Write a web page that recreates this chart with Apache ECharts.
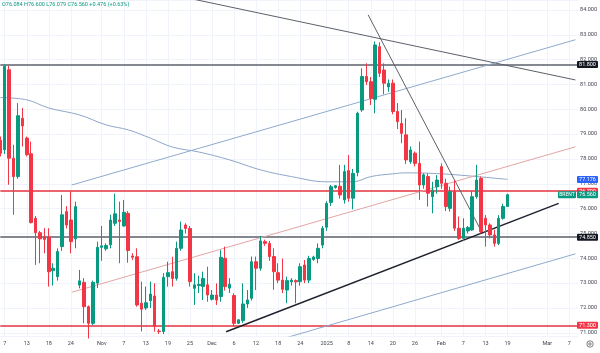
<!DOCTYPE html>
<html>
<head>
<meta charset="utf-8">
<script src="https://cdn.jsdelivr.net/npm/echarts@6/dist/echarts.min.js"></script>
<style>
html, body { margin: 0; padding: 0; background: #fff; }
#chart { width: 600px; height: 353px; }
</style>
</head>
<body>
<div id="chart"></div>
<script>
// Brent daily candles, Oct 2024 - Feb 2025 (Sunday sessions included)
const opens = [78.75,78.37,81.59,78.03,77.29,79.64,78.84,78.21,75.61,75.03,74.85,74.85,73.50,73.26,74.47,75.88,75.54,74.78,72.92,73.03,
  72.05,71.38,73.00,74.44,74.38,74.54,75.41,75.54,75.30,75.81,74.09,74.06,72.19,72.00,72.29,72.48,71.07,71.05,73.26,73.46,
  73.19,74.40,75.34,75.20,72.79,72.90,72.86,72.93,72.35,72.52,72.46,74.00,72.80,72.50,71.38,71.49,72.16,72.39,73.86,73.60,
  74.67,74.60,74.07,73.42,73.12,72.72,73.05,73.10,73.06,73.73,73.12,73.95,73.99,74.53,75.25,76.25,76.85,76.90,76.35,77.53,
  76.42,77.45,79.97,81.32,81.11,80.40,82.52,81.58,80.90,81.05,79.91,79.43,78.97,77.89,78.23,77.82,76.95,77.29,76.48,76.88,
  77.69,77.02,76.01,76.68,75.21,74.80,75.10,75.14,76.48,77.22,75.61,75.34,74.94,74.60,75.61,76.084];
const closes = [78.23,81.73,78.03,77.29,79.74,79.33,78.17,75.44,75.03,74.78,74.76,73.46,73.60,74.27,75.75,75.34,74.67,76.08,73.09,72.05,
  71.38,73.03,74.44,74.50,74.51,75.54,75.79,75.48,75.85,74.31,74.04,72.12,71.95,72.21,72.56,71.25,71.05,73.23,73.42,73.19,
  74.40,75.14,75.20,73.06,72.93,72.95,73.19,72.52,72.52,72.32,74.04,72.86,72.95,71.38,71.52,72.16,72.32,73.86,73.60,74.70,
  74.60,74.07,73.46,73.12,72.75,73.10,73.12,73.05,73.66,73.12,73.99,74.05,74.40,75.21,76.21,76.88,76.92,76.55,77.49,76.42,
  77.42,79.84,81.32,81.11,80.44,82.59,81.45,81.05,81.05,79.91,79.50,79.03,77.96,78.36,77.82,76.95,77.36,76.62,76.75,77.15,
  77.02,76.08,76.68,75.21,74.80,75.21,75.24,76.48,77.15,75.07,75.34,74.94,74.60,75.61,76.084,76.56];
const lows = [78.10,78.20,76.96,75.75,77.20,78.50,78.10,75.40,73.73,73.80,74.20,72.86,72.90,73.10,74.30,75.20,74.20,74.40,72.79,71.38,
  70.77,71.31,72.80,73.90,74.30,74.40,75.30,73.80,75.27,73.82,73.93,72.05,71.05,71.92,72.00,71.05,70.95,70.95,72.86,72.86,
  73.10,74.30,75.00,72.86,72.12,72.60,72.32,72.25,72.30,72.12,72.25,72.70,72.60,71.25,71.35,71.40,72.00,72.30,72.72,73.50,
  74.50,73.90,72.73,73.00,72.60,72.19,72.90,72.19,72.90,73.00,73.00,73.90,73.80,74.40,75.10,76.10,76.80,76.40,76.20,76.28,
  75.97,77.30,79.90,80.98,80.17,79.84,81.30,80.60,80.70,79.80,79.20,78.63,77.80,77.80,77.70,76.35,76.80,76.08,75.81,76.60,
  76.80,75.90,75.88,75.10,74.74,74.70,75.00,75.10,76.40,75.00,74.47,74.80,74.47,74.53,75.55,76.079];
const highs = [78.90,81.80,81.75,78.57,80.25,80.05,78.90,78.70,75.70,75.10,75.21,75.21,73.80,74.40,76.55,76.10,76.69,76.28,73.53,73.20,
  72.10,73.10,74.67,75.30,74.60,75.75,76.60,76.28,76.35,75.90,74.20,74.40,73.06,72.86,73.06,72.99,71.15,73.40,73.86,74.06,
  74.67,75.48,75.41,75.30,73.40,73.30,73.46,73.66,72.72,72.99,74.33,74.47,73.20,72.59,71.55,72.99,72.72,74.07,74.07,74.90,
  74.75,74.70,74.40,73.80,73.99,73.26,73.20,73.15,73.80,73.93,74.10,74.10,74.60,75.30,76.30,76.95,76.95,77.76,77.76,78.16,
  77.60,79.90,81.65,81.85,81.30,82.73,82.70,81.85,81.20,81.20,80.25,79.97,79.64,78.50,78.30,78.70,77.42,77.42,77.08,77.35,
  77.82,77.20,76.88,77.15,75.68,75.61,75.30,76.70,77.76,77.29,75.74,75.41,75.15,75.74,76.20,76.60];

const slotCount = 132; // sessions shown, incl. the empty space on the right
const tickLabels = [[1,'7'],[6,'13'],[11,'18'],[16,'24'],[23,'Nov'],[28,'7'],[33,'13'],[38,'19'],[43,'25'],[48,'Dec'],
  [53,'6'],[58,'12'],[63,'18'],[68,'24'],[74,'2025'],[79,'8'],[84,'14'],[89,'20'],[94,'26'],[100,'Feb'],[105,'7'],
  [110,'13'],[115,'19'],[124,'Mar'],[129,'7']];

// moving average, read at a few sessions
const maPoints = [[0,80.47],[6,80.38],[11,80.05],[18,79.77],[24,79.37],[29,79.17],[34,78.84],[39,78.48],[45,78.28],
  [52,77.96],[59,77.56],[66,77.29],[74,77.08],[80,77.08],[84,77.29],[89,77.40],[92,77.44],[100,77.40],[108,77.29],[115,77.176]];

// drawn trend lines [session, price]
const trendDown = [[38,84.65],[130.4,81.18]];
const trendSteep = [[83.4,83.8],[109.3,75.01]];
const trendUp = [[51.2,71.04],[126.6,76.21]];
const channelTop = [[16.2,76.95],[130.4,82.80]];
const channelMid = [[16.2,72.63],[130.4,78.49]];
const channelLow = [[64.4,70.78],[130.4,74.18]];

const blackLevels = [81.8, 74.85];
const redLevels = [76.7, 71.3];
const maLast = 77.176;
const lastPrice = 76.56;

const FONT = 'Roboto, "Liberation Sans", sans-serif';
const UP = '#089981';
const DOWN = '#f23645';

const tickMap = {};
tickLabels.forEach(([i, t]) => { tickMap[i] = t; });
const cats = [];
for (let i = 0; i < slotCount; i++) cats.push(String(i));
const candles = opens.map((o, i) => [o, closes[i], lows[i], highs[i]]);

const chart = echarts.init(document.getElementById('chart'), null, { renderer: 'canvas' });

const lineSeries = (data, color, width, extra) => Object.assign({
  type: 'line', xAxisIndex: 1, data: data, showSymbol: false, silent: true,
  lineStyle: { color: color, width: width }, z: 3
}, extra || {});

chart.setOption({
  animation: false,
  grid: { left: 0.3, right: 20.7, top: 0, bottom: 17 },
  xAxis: [
    {
      type: 'category', data: cats, boundaryGap: false,
      axisLine: { show: false }, axisTick: { show: false },
      axisLabel: {
        interval: (i) => tickMap[i] !== undefined,
        formatter: (v, i) => tickMap[i] || '',
        fontSize: 5.5, color: '#434651', margin: 5, fontFamily: FONT
      },
      splitLine: { show: true, interval: (i) => tickMap[i] !== undefined, lineStyle: { color: '#f0f3fa', width: 1 } }
    },
    { type: 'value', min: 0, max: slotCount - 1, show: false }
  ],
  yAxis: {
    type: 'value', position: 'right', min: 70.87, max: 84.40, splitNumber: 13, scale: true,
    axisLine: { show: false }, axisTick: { show: false },
    axisLabel: {
      formatter: (v) => v.toFixed(3), fontSize: 5.5, color: '#434651', margin: 2,
      showMinLabel: false, showMaxLabel: false, fontFamily: FONT
    },
    splitLine: { lineStyle: { color: '#f0f3fa', width: 1 } }
  },
  series: [
    {
      type: 'candlestick', data: candles, barWidth: 3, z: 5,
      itemStyle: { color: UP, color0: DOWN, borderColor: UP, borderColor0: DOWN, borderWidth: 1 },
      markLine: {
        silent: true, symbol: ['none', 'none'], label: { show: false }, z: 2,
        data: blackLevels.map(v => ({ yAxis: v, lineStyle: { color: '#5d606b', width: 1.5, type: 'solid' } }))
          .concat(redLevels.map(v => ({ yAxis: v, lineStyle: { color: '#e5323f', width: 1.5, type: 'solid' } })))
      }
    },
    lineSeries(maPoints, '#8ea6c9', 1, { smooth: 0.4 }),
    lineSeries(channelTop, '#8eaacd', 1),
    lineSeries(channelMid, '#e3a5a5', 1),
    lineSeries(channelLow, '#8eaacd', 1),
    lineSeries(trendDown, '#5d606b', 1),
    lineSeries(trendSteep, '#5d606b', 1),
    lineSeries(trendUp, '#1e222d', 1.5)
  ]
});

// price tags on the right scale
const tagX = 577, tagW = 21, tagH = 7;
const tags = [
  [81.8, '81.800', '#131722'],
  [maLast, maLast.toFixed(3), '#2962ff'],
  [redLevels[0], redLevels[0].toFixed(3), DOWN],
  [lastPrice, lastPrice.toFixed(3), UP],
  [blackLevels[1], blackLevels[1].toFixed(3), '#131722'],
  [redLevels[1], redLevels[1].toFixed(3), DOWN]
];
const graphics = [];
tags.forEach(([v, txt, bg], k) => {
  const y = chart.convertToPixel({ yAxisIndex: 0 }, v);
  graphics.push({ type: 'rect', z: 100 + k, shape: { x: tagX, y: y - tagH / 2, width: tagW, height: tagH, r: 1 }, style: { fill: bg } });
  graphics.push({ type: 'text', z: 101 + k, x: tagX + tagW / 2, y: y,
    style: { text: txt, fill: '#fff', font: '5.5px ' + FONT, textAlign: 'center', textVerticalAlign: 'middle' } });
});
const yLast = chart.convertToPixel({ yAxisIndex: 0 }, lastPrice);
graphics.push({ type: 'rect', z: 120, shape: { x: 558, y: yLast - tagH / 2, width: 18, height: tagH, r: 1 }, style: { fill: UP } });
graphics.push({ type: 'text', z: 121, x: 567, y: yLast,
  style: { text: 'BRENT', fill: '#fff', font: '5px ' + FONT, textAlign: 'center', textVerticalAlign: 'middle' } });
// legend line
graphics.push({ type: 'text', z: 130, x: 2, y: 5,
  style: { text: 'O76.084 H76.600 L76.079 C76.560 +0.476 (+0.63%)', fill: UP, font: '5.5px ' + FONT, textVerticalAlign: 'middle' } });
// settings gear
graphics.push({ type: 'circle', z: 130, shape: { cx: 590, cy: 344, r: 3.2 }, style: { fill: 'none', stroke: '#5d606b', lineWidth: 0.8 } });
graphics.push({ type: 'circle', z: 130, shape: { cx: 590, cy: 344, r: 1.2 }, style: { fill: 'none', stroke: '#5d606b', lineWidth: 0.8 } });

chart.setOption({ graphic: graphics });
</script>
</body>
</html>
